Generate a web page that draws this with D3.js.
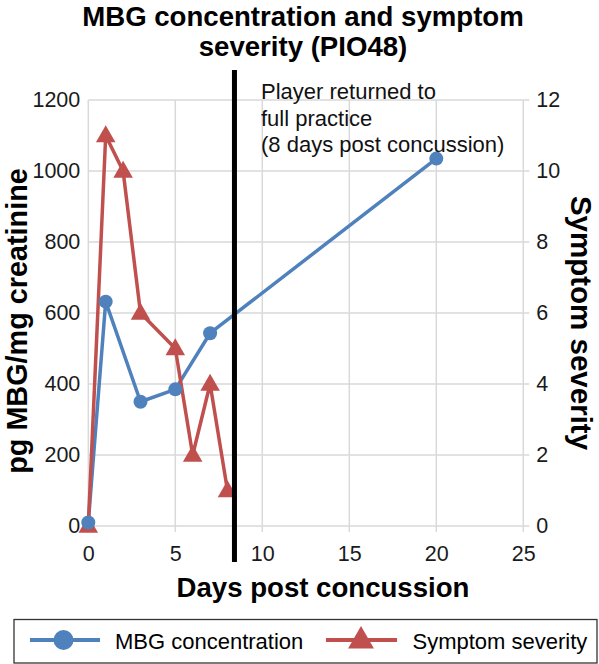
<!DOCTYPE html>
<html><head><meta charset="utf-8">
<script src="https://cdn.jsdelivr.net/npm/d3@7"></script>
<style>
body{margin:0;background:#fff;}
text{font-family:"Liberation Sans",Arial,sans-serif;}
</style></head>
<body><svg id="c" width="599" height="664"></svg>
<script>
const mbgDays = [0, 1, 3, 5, 7, 20];
const mbgValues = [10, 632, 350, 385, 543, 1035];
const symDays = [0, 1, 2, 3, 5, 6, 7, 8];
const symValues = [0, 11, 10, 6, 5, 2, 4, 1];
const xTicks = [0, 5, 10, 15, 20, 25];
const yLeftTicks = [0, 200, 400, 600, 800, 1000, 1200];
const yRightTicks = [0, 2, 4, 6, 8, 10, 12];
const returnDay = 8.4;
const titleLines = ["MBG concentration and symptom", "severity (PIO48)"];
const annotationLines = ["Player returned to", "full practice", "(8 days post concussion)"];
const legendLabels = ["MBG concentration", "Symptom severity"];

const svg = d3.select("#c");
const L = 88.3, R = 523.3, T = 100, B = 526;
const x = d3.scaleLinear().domain([0, 25]).range([L, R]);
const yL = d3.scaleLinear().domain([0, 1200]).range([B, T]);
const yR = d3.scaleLinear().domain([0, 12]).range([B, T]);
const blue = "#4F81BD", red = "#C0504D", grid = "#d9d9d9";
const FONT = "Liberation Sans, Arial, sans-serif";

// grid
const g = svg.append("g");
g.selectAll(".hg").data(yLeftTicks).join("line")
  .attr("x1", L).attr("x2", R).attr("y1", d => yL(d)).attr("y2", d => yL(d))
  .attr("stroke", grid).attr("stroke-width", 1.5);
g.selectAll(".vg").data(xTicks).join("line")
  .attr("x1", d => x(d)).attr("x2", d => x(d)).attr("y1", T).attr("y2", B + 6)
  .attr("stroke", grid).attr("stroke-width", 1.5);
g.selectAll(".rt").data(yRightTicks).join("line")
  .attr("x1", R).attr("x2", R + 6).attr("y1", d => yR(d)).attr("y2", d => yR(d))
  .attr("stroke", grid).attr("stroke-width", 1.5);

// axis labels
const fmt = d3.format("d");
const axL = svg.append("g").attr("transform", `translate(${L},0)`)
  .call(d3.axisLeft(yL).tickValues(yLeftTicks).tickFormat(fmt).tickSize(0).tickPadding(8));
const axR = svg.append("g").attr("transform", `translate(${R},0)`)
  .call(d3.axisRight(yR).tickValues(yRightTicks).tickFormat(fmt).tickSize(0).tickPadding(13));
const axB = svg.append("g").attr("transform", `translate(0,${B})`)
  .call(d3.axisBottom(x).tickValues(xTicks).tickFormat(fmt).tickSize(0).tickPadding(20));
[axL, axR, axB].forEach(a => {
  a.attr("font-size", 21.5).attr("font-family", FONT);
  a.select(".domain").remove();
  a.selectAll("text").attr("fill", "#1a1a1a");
});

// lines
const lineM = d3.line().x((d, i) => x(mbgDays[i])).y(d => yL(d));
const lineS = d3.line().x((d, i) => x(symDays[i])).y(d => yR(d));
svg.append("path").attr("d", lineM(mbgValues)).attr("fill", "none")
  .attr("stroke", blue).attr("stroke-width", 3.5).attr("stroke-linejoin", "round");
svg.append("path").attr("d", lineS(symValues)).attr("fill", "none")
  .attr("stroke", red).attr("stroke-width", 3.5).attr("stroke-linejoin", "round");

const tri = d3.symbol().type(d3.symbolTriangle).size(165);
svg.selectAll(".tri").data(symValues).join("path")
  .attr("d", tri).attr("fill", red)
  .attr("transform", (d, i) => `translate(${x(symDays[i])},${yR(d) + 1})`);
svg.selectAll(".cir").data(mbgValues).join("circle")
  .attr("cx", (d, i) => x(mbgDays[i])).attr("cy", d => yL(d)).attr("r", 7)
  .attr("fill", blue);

// vertical return line
svg.append("line").attr("x1", x(returnDay)).attr("x2", x(returnDay))
  .attr("y1", 70).attr("y2", 562).attr("stroke", "#000").attr("stroke-width", 5);

// annotation
const ann = svg.append("text").attr("x", 261).attr("y", 99)
  .attr("font-size", 22).attr("fill", "#111");
annotationLines.forEach((t, i) => ann.append("tspan").attr("x", 261).attr("dy", i ? 26.5 : 0).text(t));

// title
const tt = svg.append("text").attr("x", 303).attr("y", 26).attr("text-anchor", "middle")
  .attr("font-size", 27.6).attr("font-weight", "bold").attr("fill", "#000");
titleLines.forEach((t, i) => tt.append("tspan").attr("x", 303).attr("dy", i ? 29.5 : 0).text(t));

// axis titles
svg.append("text").attr("transform", `translate(27,321) rotate(-90)`)
  .attr("text-anchor", "middle").attr("font-size", 28.8).attr("font-weight", "bold")
  .text("pg MBG/mg creatinine");
svg.append("text").attr("transform", `translate(571,323) rotate(90)`)
  .attr("text-anchor", "middle").attr("font-size", 29.5).attr("font-weight", "bold")
  .text("Symptom severity");
svg.append("text").attr("x", 323).attr("y", 597).attr("text-anchor", "middle")
  .attr("font-size", 27.6).attr("font-weight", "bold").text("Days post concussion");

// legend
const lg = svg.append("g");
lg.append("rect").attr("x", 14).attr("y", 619.5).attr("width", 583).attr("height", 43.5)
  .attr("fill", "#fff").attr("stroke", "#333").attr("stroke-width", 1.3);
lg.append("line").attr("x1", 30).attr("x2", 100).attr("y1", 640).attr("y2", 640)
  .attr("stroke", blue).attr("stroke-width", 4);
lg.append("circle").attr("cx", 63.5).attr("cy", 640).attr("r", 10).attr("fill", blue);
lg.append("text").attr("x", 115).attr("y", 648.5).attr("font-size", 22).text(legendLabels[0]);
lg.append("line").attr("x1", 326).attr("x2", 397).attr("y1", 640).attr("y2", 640)
  .attr("stroke", red).attr("stroke-width", 4);
lg.append("path").attr("d", d3.symbol().type(d3.symbolTriangle).size(290))
  .attr("transform", "translate(361,641)").attr("fill", red);
lg.append("text").attr("x", 412.5).attr("y", 648.5).attr("font-size", 22).text(legendLabels[1]);
</script></body></html>
